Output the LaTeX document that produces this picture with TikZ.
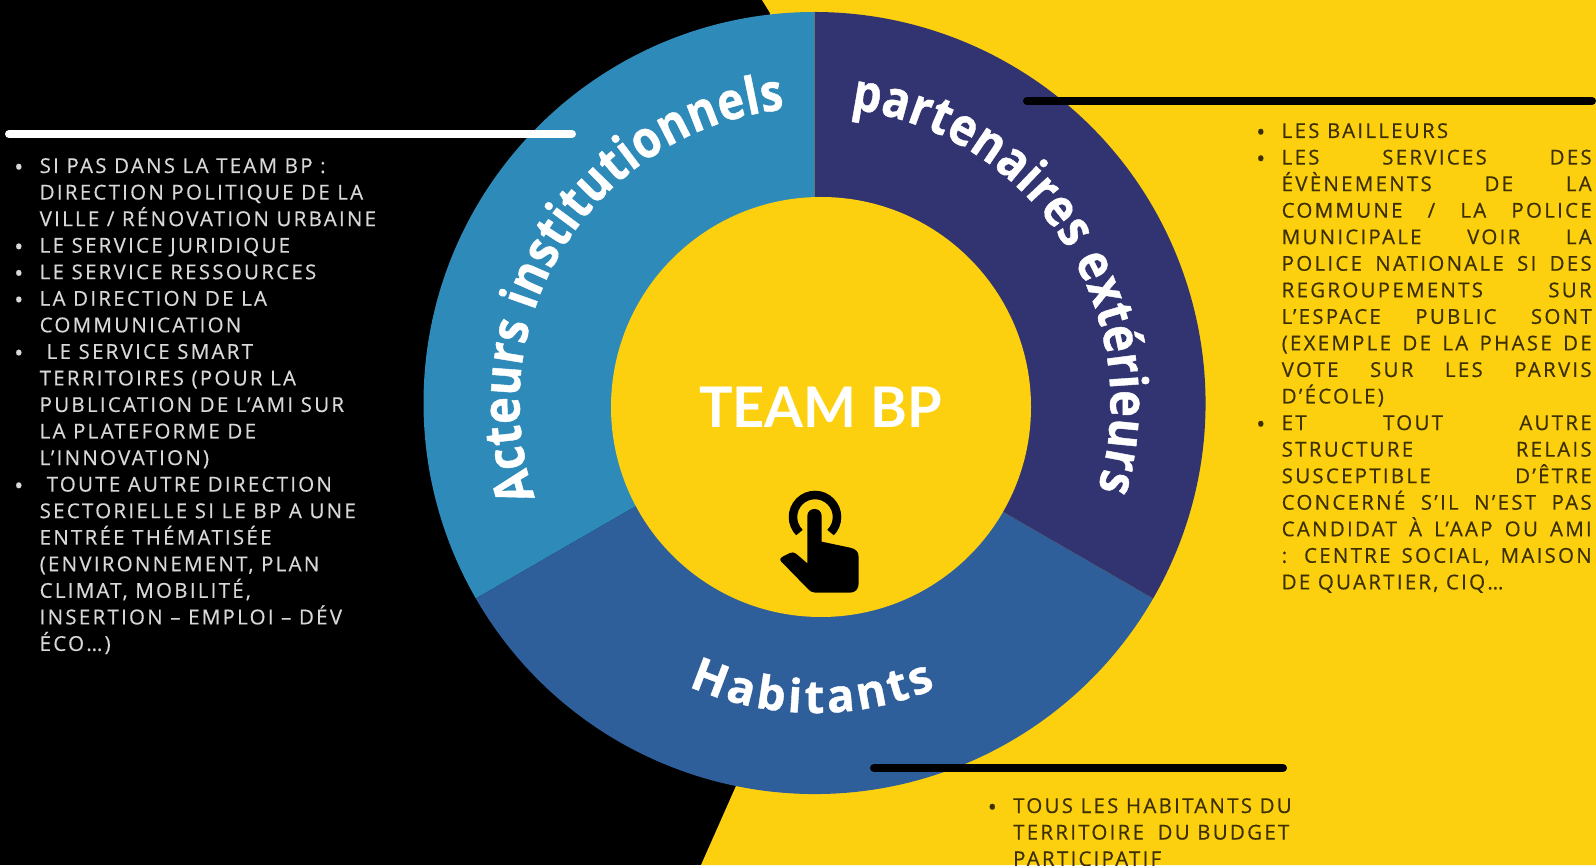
\documentclass[tikz,border=0pt]{standalone}
\usepackage{fontspec}
\usetikzlibrary{decorations.text}
\setmainfont{Open Sans}
\newfontfamily\bodyf[LetterSpace=11,FakeBold=0.4]{Open Sans}
\newfontfamily\arcfam[FakeStretch=0.87,FakeBold=0.8]{Open Sans}
\newfontfamily\habfam[FakeBold=0.8]{Open Sans}
\newfontfamily\teamf{Lato}
\definecolor{bgyellow}{HTML}{FDD00F}
\definecolor{ringa}{HTML}{2E8AB8}
\definecolor{ringb}{HTML}{313470}
\definecolor{ringc}{HTML}{2F5F9A}
\definecolor{lighttxt}{HTML}{D8D8D8}
\definecolor{darktxt}{HTML}{3D3000}
\newcommand{\arcA}{\arcfam\bfseries\fontsize{52}{52}\selectfont\color{white}}
\newcommand{\arcB}{\habfam\bfseries\fontsize{46}{46}\selectfont\color{white}}
\newcommand{\blt}{\par\noindent\llap{\raisebox{-2.5pt}{\fontsize{24}{24}\selectfont •}\hspace{16.4pt}}}
\newcommand{\lin}{\par\noindent}
\newcommand{\jl}[1]{\par\noindent\makebox[310pt][s]{#1}}
\newcommand{\bjl}[1]{\blt\makebox[310pt][s]{#1}}
\newcommand{\blocksetup}{\bodyf\fontsize{20.5}{26.55}\selectfont\setlength{\parindent}{0pt}\setlength{\parskip}{0pt}\setlength{\baselineskip}{26.55pt}}
\tikzset{
  blocktxt/.style={inner sep=0pt,anchor=base west,align=left},
  bar/.style={line width=8pt,line cap=round}
}
\begin{document}
\begin{tikzpicture}[x=1pt,y=1pt]
\useasboundingbox (0,0) rectangle (1596,865);
\fill[black] (0,0) rectangle (1596,865);
\fill[bgyellow] (762,865) -- (770,852) -- (736,79) -- (701,0) -- (1596,0) -- (1596,865) -- cycle;
% ring
\coordinate (c) at (814.5,462);
\fill[ringa] (c) -- ++(90:391) arc[start angle=90,end angle=210,radius=391] -- cycle;
\fill[ringc] (c) -- ++(210:391) arc[start angle=210,end angle=330,radius=391] -- cycle;
\fill[ringb] (c) -- ++(330:391) arc[start angle=330,end angle=450,radius=391] -- cycle;
\fill[bgyellow] (821,458) circle[radius=210];
% bars
\coordinate (wa) at (9,731); \coordinate (wb) at (572,731);
\coordinate (ka) at (1027,764); \coordinate (kb) at (1592,764);
\coordinate (la) at (874,97); \coordinate (lb) at (1283,97);
\draw[bar,white] (wa) -- (wb);
\draw[bar,black] (ka) -- (kb);
\draw[bar,black] (la) -- (lb);
% curved labels
\path[decorate,decoration={text along path,text align={fit to path},text={|\arcA|Acteurs institutionnels}}]
  (c) ++(198.7:295) arc[start angle=198.7,end angle=95.8,radius=295];
\path[decorate,decoration={text along path,text align={fit to path},text={|\arcA|partenaires extérieurs}}]
  (c) ++(83:296) arc[start angle=83,end angle=-17,radius=296];
\path[decorate,decoration={text along path,text align={fit to path},text={|\arcB|Habitants}}]
  (c) ++(246:310) arc[start angle=246,end angle=293,radius=310];
% centre
\node[text=white,inner sep=0pt] (team) at (820.5,458) {\teamf\bfseries\fontsize{56}{56}\selectfont TEAM BP};
% hand icon
\draw[black,line width=8.5pt] (815,348) ++(225:22) arc[start angle=225,end angle=-45,radius=22];
\begin{scope}[shift={(770,385)},x=0.3333pt,y=-0.3333pt]
\fill[black] (112,108) .. controls (112,80) and (155,80) .. (155,108)
  -- (155,185) -- (240,203) .. controls (258,207) and (266,215) .. (266,232)
  -- (266,310) .. controls (266,328) and (255,338) .. (240,338)
  -- (135,338) .. controls (125,338) and (118,332) .. (112,325)
  -- (34,245) .. controls (28,238) and (30,234) .. (38,230)
  -- (60,219) .. controls (66,216) and (72,217) .. (78,221)
  -- (112,250) -- cycle;
\end{scope}
% left text
\node[blocktxt,text=lighttxt] (left) at (39.5,692) {\parbox[t]{345pt}{\blocksetup
\blt SI PAS DANS LA TEAM BP :
\lin DIRECTION POLITIQUE DE LA
\lin VILLE / RÉNOVATION URBAINE
\blt LE SERVICE JURIDIQUE
\blt LE SERVICE RESSOURCES
\blt LA DIRECTION DE LA
\lin COMMUNICATION
\blt\hspace{7pt}LE SERVICE SMART
\lin TERRITOIRES (POUR LA
\lin PUBLICATION DE L’AMI SUR
\lin LA PLATEFORME DE
\lin L’INNOVATION)
\blt\hspace{7pt}TOUTE AUTRE DIRECTION
\lin SECTORIELLE SI LE BP A UNE
\lin ENTRÉE THÉMATISÉE
\lin (ENVIRONNEMENT, PLAN
\lin CLIMAT, MOBILITÉ,
\lin INSERTION – EMPLOI – DÉV
\lin ÉCO…)}};
% right text
\node[blocktxt,text=darktxt] (right) at (1281.5,727) {\parbox[t]{312pt}{\blocksetup
\blt LES BAILLEURS
\bjl{LES SERVICES DES}
\jl{ÉVÈNEMENTS DE LA}
\jl{COMMUNE / LA POLICE}
\jl{MUNICIPALE VOIR LA}
\jl{POLICE NATIONALE SI DES}
\jl{REGROUPEMENTS SUR}
\jl{L’ESPACE PUBLIC SONT}
\jl{(EXEMPLE DE LA PHASE DE}
\jl{VOTE SUR LES PARVIS}
\lin D’ÉCOLE)
\bjl{ET TOUT AUTRE}
\jl{STRUCTURE RELAIS}
\jl{SUSCEPTIBLE D’ÊTRE}
\jl{CONCERNÉ S’IL N’EST PAS}
\jl{CANDIDAT À L’AAP OU AMI}
\jl{: CENTRE SOCIAL, MAISON}
\lin DE QUARTIER, CIQ…}};
% bottom text
\node[blocktxt,text=darktxt] (bottom) at (1013,52) {\parbox[t]{310pt}{\blocksetup
\blt TOUS LES HABITANTS DU
\lin TERRITOIRE\hspace{6pt} DU BUDGET
\lin PARTICIPATIF}};
\end{tikzpicture}
\end{document}
